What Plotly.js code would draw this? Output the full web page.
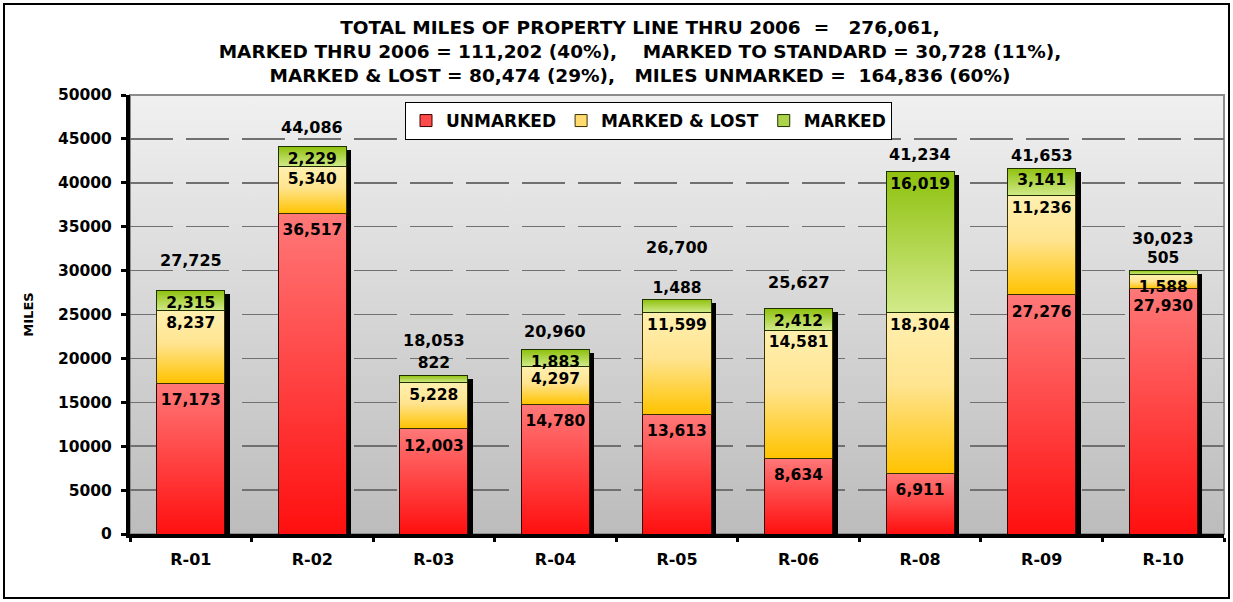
<!DOCTYPE html>
<html>
<head>
<meta charset="utf-8">
<script src="https://cdn.plot.ly/plotly-3.0.1.min.js"></script>
<style>
  html, body { margin: 0; padding: 0; background: #ffffff; }
  #wrap { position: relative; width: 1233px; height: 602px; }
  #chart { width: 1233px; height: 602px; }
  #frame { position: absolute; left: 3px; top: 3px; width: 1227px; height: 596px;
           border: 2px solid #000; box-sizing: border-box; pointer-events: none; }
</style>
</head>
<body>
<div id="wrap">
  <div id="chart"></div>
  <div id="frame"></div>
</div>
<script>
// ---- data ----
const categories = ['R-01', 'R-02', 'R-03', 'R-04', 'R-05', 'R-06', 'R-08', 'R-09', 'R-10'];
const unmarked   = [17173, 36517, 12003, 14780, 13613, 8634, 6911, 27276, 27930];
const markedLost = [8237, 5340, 5228, 4297, 11599, 14581, 18304, 11236, 1588];
const marked     = [2315, 2229, 822, 1883, 1488, 2412, 16019, 3141, 505];
const totals     = [27725, 44086, 18053, 20960, 26700, 25627, 41234, 41653, 30023];
const yTicks     = [0, 5000, 10000, 15000, 20000, 25000, 30000, 35000, 40000, 45000, 50000];

const NB = '\u00a0';
const titleLines = [
  'TOTAL MILES OF PROPERTY LINE THRU 2006' + NB + ' = ' + NB + ' 276,061,',
  'MARKED THRU 2006 = 111,202 (40%),' + NB + NB + NB + ' MARKED TO STANDARD = 30,728 (11%),',
  'MARKED &amp; LOST = 80,474 (29%),' + NB + NB + ' MILES UNMARKED = ' + NB + '164,836 (60%)'
];

// ---- styling (not data) ----
const FONT = 'DejaVu Sans, Arial, sans-serif';
const barWidth = 0.56;
const plotH = 602 - 95 - 68;            // plot area height in px
const plotW = 1233 - 130 - 9;           // plot area width in px
const yMax = 50000;
const shadowDropPx = 3.5, shadowShiftPx = 5;
const totalLabelLift = [30, 19, 35, 18, 52, 26, 17, 13, 32];   // px above bar top
const greenTextPos = marked.map((v, i) => (i === 2 || i === 4 || i === 8) ? 'outside' : 'inside');

const shadowY = totals.map(v => v - shadowDropPx * yMax / plotH);

const fmt = v => v.toLocaleString('en-US');

const segTextFont = { family: FONT, size: 15.5, color: '#000', weight: 'bold' };

const traces = [
  {
    type: 'bar', name: 'shadow', x: categories, y: shadowY,
    xaxis: 'x', yaxis: 'y', width: barWidth,
    offset: -barWidth / 2 + shadowShiftPx * categories.length / plotW,
    marker: { color: '#000', line: { width: 0 } },
    showlegend: false, hoverinfo: 'skip'
  },
  {
    type: 'bar', name: 'UNMARKED', x: categories, y: unmarked,
    xaxis: 'x', yaxis: 'y2', width: barWidth,
    marker: { color: '#ff4a4a', line: { color: '#3a0000', width: 1 } },
    text: unmarked.map(fmt), textposition: 'inside', insidetextanchor: 'end',
    textfont: segTextFont, insidetextfont: segTextFont, constraintext: 'none',
    hoverinfo: 'skip'
  },
  {
    type: 'bar', name: 'MARKED & LOST', x: categories, y: markedLost,
    xaxis: 'x', yaxis: 'y2', width: barWidth,
    marker: { color: '#ffdb70', line: { color: '#3a3000', width: 1 } },
    text: markedLost.map(fmt), textposition: 'inside', insidetextanchor: 'end',
    textfont: segTextFont, insidetextfont: segTextFont, constraintext: 'none',
    hoverinfo: 'skip'
  },
  {
    type: 'bar', name: 'MARKED', x: categories, y: marked,
    xaxis: 'x', yaxis: 'y2', width: barWidth,
    marker: { color: '#acd34a', line: { color: '#1f3000', width: 1 } },
    text: marked.map(fmt), textposition: greenTextPos, insidetextanchor: 'end',
    textfont: segTextFont, insidetextfont: segTextFont, outsidetextfont: segTextFont,
    constraintext: 'none', cliponaxis: false,
    hoverinfo: 'skip'
  }
];

const annotations = categories.map((c, i) => ({
  x: c, y: totals[i], xref: 'x', yref: 'y2',
  text: fmt(totals[i]), showarrow: false,
  yanchor: 'middle', yshift: totalLabelLift[i],
  font: { family: FONT, size: 16, color: '#000', weight: 'bold' }
}));

const layout = {
  width: 1233, height: 602,
  margin: { l: 130, r: 9, t: 95, b: 68, pad: 0 },
  paper_bgcolor: '#ffffff',
  plot_bgcolor: '#d8d8d8',
  barmode: 'stack',
  hovermode: false,
  showlegend: true,
  uniformtext: { mode: 'show', minsize: 15.5 },
  title: {
    text: titleLines.join('<br>'),
    font: { family: FONT, size: 18.5, color: '#000', weight: 'bold' },
    x: 640 / 1233, xref: 'container', xanchor: 'center',
    y: 1 - 34 / 602, yref: 'container', yanchor: 'middle'
  },
  legend: {
    orientation: 'h', x: (405 - 130) / plotW, y: (534 - 102) / plotH,
    xanchor: 'left', yanchor: 'top',
    bgcolor: '#ffffff', bordercolor: '#000', borderwidth: 1,
    font: { family: FONT, size: 17, color: '#000', weight: 'bold' },
    traceorder: 'normal'
  },
  xaxis: {
    type: 'category', categoryorder: 'array', categoryarray: categories,
    range: [-0.5, categories.length - 0.5],
    showline: true, linecolor: '#000', linewidth: 4,
    ticks: 'outside', tickson: 'boundaries', ticklen: 4, tickwidth: 3, tickcolor: '#000',
    ticklabelstandoff: 8,
    tickfont: { family: FONT, size: 16, color: '#000', weight: 'bold' },
    showgrid: false, zeroline: false, fixedrange: true
  },
  yaxis: {
    range: [0, yMax], tickmode: 'array', tickvals: yTicks, ticktext: yTicks.map(String),
    showline: true, linecolor: '#000', linewidth: 4,
    ticks: 'outside', ticklen: 5, tickwidth: 3, tickcolor: '#000',
    ticklabelstandoff: 6,
    tickfont: { family: FONT, size: 15.5, color: '#000', weight: 'bold' },
    showgrid: true, gridcolor: '#707070', gridwidth: 1.5, griddash: '43px,13px',
    zeroline: false, fixedrange: true,
    title: { text: 'MILES', font: { family: FONT, size: 13, color: '#000', weight: 'bold' }, standoff: 22 }
  },
  yaxis2: {
    range: [0, yMax], overlaying: 'y', visible: false, fixedrange: true
  },
  annotations: annotations,
  shapes: [
    { type: 'rect', xref: 'paper', yref: 'paper', x0: 0, x1: 1, y0: 0, y1: 1,
      line: { color: '#8c8c8c', width: 2 }, fillcolor: 'rgba(0,0,0,0)', layer: 'below' }
  ]
};

const gd = document.getElementById('chart');
const NS = 'http://www.w3.org/2000/svg';
const gradients = {
  'UNMARKED':      [['0', '#ff7878'], ['1', '#ff0f0f']],
  'MARKED & LOST': [['0', '#fff0b0'], ['0.45', '#ffe490'], ['1', '#ffc300']],
  'MARKED':        [['0', '#8fc10f'], ['1', '#d2ea8a']],
  'BG':            [['0', '#f0f0f0'], ['1', '#bcbcbc']]
};
const textDrop = { 'UNMARKED': 5 };   // px, push red labels a little lower

function ensureDefs() {
  const svg = gd.querySelector('svg.main-svg');
  if (!svg) return;
  if (svg.querySelector('#customgrads')) return;
  const defs = document.createElementNS(NS, 'defs');
  defs.setAttribute('id', 'customgrads');
  Object.keys(gradients).forEach((k, idx) => {
    const lg = document.createElementNS(NS, 'linearGradient');
    lg.setAttribute('id', 'cg' + idx);
    lg.setAttribute('x1', '0'); lg.setAttribute('y1', '0');
    lg.setAttribute('x2', '0'); lg.setAttribute('y2', '1');
    gradients[k].forEach(([off, col]) => {
      const st = document.createElementNS(NS, 'stop');
      st.setAttribute('offset', off);
      st.setAttribute('stop-color', col);
      lg.appendChild(st);
    });
    defs.appendChild(lg);
  });
  svg.insertBefore(defs, svg.firstChild);
}
function gradId(name) {
  const idx = Object.keys(gradients).indexOf(name);
  return idx < 0 ? null : 'url(#cg' + idx + ')';
}
function applyGradients() {
  ensureDefs();
  const bg = gd.querySelector('.bglayer rect.bg');
  if (bg) bg.style.fill = gradId('BG');
  gd.querySelectorAll('g.trace.bars').forEach(g => {
    const cd = g.__data__;
    const name = cd && cd[0] && cd[0].trace ? cd[0].trace.name : null;
    const f = gradId(name);
    if (!f || name === 'BG') return;
    g.querySelectorAll('g.point path').forEach(p => { p.style.fill = f; });
    if (textDrop[name]) {
      g.querySelectorAll('g.point text').forEach(t => {
        if (t.getAttribute('data-dropped')) return;
        const old = t.getAttribute('transform') || '';
        t.setAttribute('transform', 'translate(0,' + textDrop[name] + ') ' + old);
        t.setAttribute('data-dropped', '1');
      });
    }
  });
}

Plotly.newPlot(gd, traces, layout, { displayModeBar: false, staticPlot: true }).then(() => {
  applyGradients();
  gd.on && gd.on('plotly_afterplot', applyGradients);
});
</script>
</body>
</html>
